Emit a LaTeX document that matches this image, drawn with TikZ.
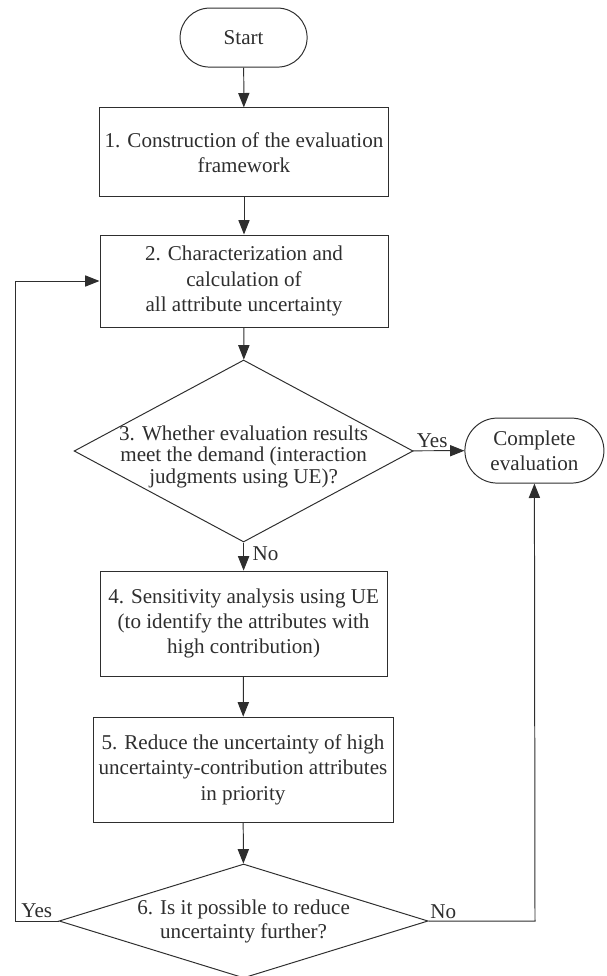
\documentclass[tikz,border=0pt]{standalone}
\usepackage{fontspec}
\setmainfont{Liberation Serif}
\usetikzlibrary{shapes.geometric,shapes.misc,arrows.meta}
\definecolor{ink}{HTML}{2E2E2E}

\begin{document}
\begin{tikzpicture}
  [every node/.style={align=center,text=ink,font=\fontsize{15}{18}\selectfont},
   >={Triangle[length=0.36cm,width=0.28cm]}]

  \tikzstyle{process}  = [draw=ink,line width=0.7pt,rectangle,inner sep=0pt]
  \tikzstyle{terminal} = [draw=ink,line width=0.7pt,rounded rectangle,inner sep=0pt]
  \tikzstyle{decision} = [draw=ink,line width=0.7pt,diamond,inner sep=0pt,aspect=1]
  \tikzstyle{flow}     = [->,draw=ink,line width=0.7pt]

  \useasboundingbox (0,0) rectangle (15.15,-24.4);

  \node[terminal,minimum width=3.175cm,minimum height=1.475cm] (start) at (6.09,-0.94) {Start};
  \node[process,minimum width=7.225cm,minimum height=2.225cm]  (build) at (6.1,-3.81)
       {1. Construction of the evaluation\\framework};
  \node[process,minimum width=7.2cm,minimum height=2.3cm]      (calc)  at (6.1,-7.025)
       {2. Characterization and\\calculation of\\all attribute uncertainty};
  \node[decision,minimum width=8.475cm,minimum height=4.55cm]  (meet)  at (6.09,-11.275) {};
  \node[font=\fontsize{15}{15.5}\selectfont] (meettext) at (6.09,-11.42)
       {3. Whether evaluation results\\meet the demand (interaction\\judgments using UE)?};
  \node[terminal,minimum width=3.475cm,minimum height=1.625cm] (done)  at (13.36,-11.265)
       {Complete\\evaluation};
  \node[process,minimum width=7.175cm,minimum height=2.625cm]  (sens)  at (6.09,-15.59)
       {4. Sensitivity analysis using UE\\(to identify the attributes with\\high contribution)};
  \node[process,minimum width=7.5cm,minimum height=2.625cm]    (reduce) at (6.075,-19.24)
       {5. Reduce the uncertainty of high\\uncertainty-contribution attributes\\in priority};
  \node[decision,minimum width=9.225cm,minimum height=2.85cm]  (again) at (6.09,-23.025) {};
  \node[font=\fontsize{15}{17}\selectfont] (againtext) at (6.09,-23.025)
       {6. Is it possible to reduce\\uncertainty further?};

  \coordinate (loopL) at (0.375,-23.025);
  \coordinate (loopR) at (13.375,-23.025);

  \draw[flow] (start) -- (build);
  \draw[flow] (build) -- (calc);
  \draw[flow] (calc) -- (meet);
  \draw[flow] (meet) -- node[above,pos=0.37,inner sep=2pt] {Yes} (done);
  \draw[flow] (meet) -- node[right,pos=0.4,inner sep=6pt] {No} (sens);
  \draw[flow] (sens) -- (reduce);
  \draw[flow] (reduce) -- (again);
  \draw[flow] (again.west) -- node[above,inner sep=2pt] {Yes} (loopL) |- (calc.west);
  \draw[flow] (again.east) -- node[above right,pos=0,inner sep=1pt] {No} (loopR) -- (done.south);
\end{tikzpicture}
\end{document}
